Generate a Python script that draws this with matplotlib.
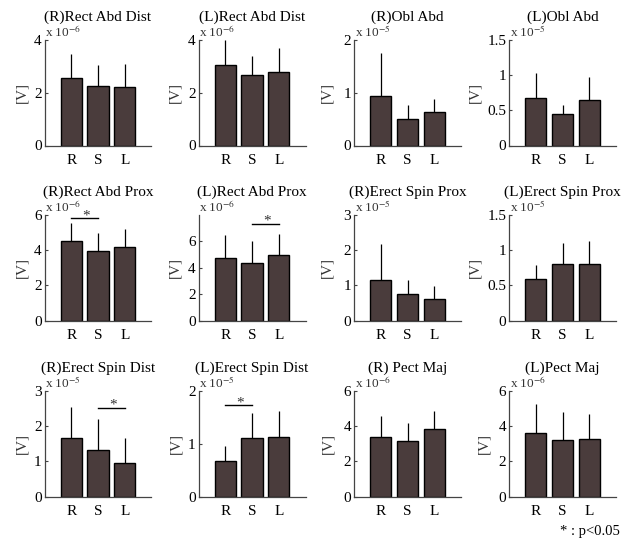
import matplotlib
matplotlib.use("Agg")
import matplotlib.pyplot as plt

plt.rcParams["font.family"] = ["Liberation Serif", "DejaVu Serif"]
plt.rcParams["mathtext.fontset"] = "stix"

# Muscle activity per posture (R / S / L), mean and SD, in units of 10^exp V
conditions = ["R", "S", "L"]

titles = [
    "(R)Rect Abd Dist", "(L)Rect Abd Dist", "(R)Obl Abd", "(L)Obl Abd",
    "(R)Rect Abd Prox", "(L)Rect Abd Prox", "(R)Erect Spin Prox", "(L)Erect Spin Prox",
    "(R)Erect Spin Dist", "(L)Erect Spin Dist", "(R) Pect Maj", "(L)Pect Maj",
]
exponents = [-6, -6, -5, -5, -6, -6, -5, -5, -5, -5, -6, -6]

means = [
    [2.55, 2.25, 2.23], [3.05, 2.66, 2.80], [0.93, 0.51, 0.63], [0.67, 0.45, 0.65],
    [4.51, 3.98, 4.19], [4.73, 4.38, 4.94], [1.15, 0.76, 0.62], [0.595, 0.80, 0.81],
    [1.65, 1.33, 0.95], [0.67, 1.10, 1.12], [3.37, 3.16, 3.83], [3.60, 3.24, 3.26],
]
sds = [
    [0.92, 0.80, 0.85], [0.94, 0.72, 0.88], [0.83, 0.25, 0.26], [0.36, 0.12, 0.33],
    [1.01, 1.01, 1.01], [1.75, 1.62, 1.62], [1.02, 0.39, 0.35], [0.20, 0.295, 0.32],
    [0.89, 0.86, 0.72], [0.28, 0.48, 0.50], [1.21, 1.01, 1.04], [1.68, 1.55, 1.42],
]

y_limits = [4, 4, 2, 1.5, 6, 8, 3, 1.5, 3, 2, 6, 6]
y_ticks = [
    [0, 2, 4], [0, 2, 4], [0, 1, 2], [0, 0.5, 1, 1.5],
    [0, 2, 4, 6], [0, 2, 4, 6], [0, 1, 2, 3], [0, 0.5, 1, 1.5],
    [0, 1, 2, 3], [0, 1, 2], [0, 2, 4, 6], [0, 2, 4, 6],
]
y_tick_labels = [[("%g" % t) for t in ticks] for ticks in y_ticks]

# significant pairs: panel index -> (first bar, second bar, bracket height)
sig_pairs = {4: (0, 1, 5.81), 5: (1, 2, 7.34), 8: (1, 2, 2.53), 9: (0, 1, 1.73)}

BAR_COLOR = "#4a3c3c"
W, H = 636, 542
col_left = [44.5, 198.5, 354, 509]
row_top = [40, 215, 391]
ax_w, ax_h = 107, 105.5
# distance (px) from the y axis to the right edge of the "[V]" label
ylabel_gap = [16, 17, 21, 28, 16, 17, 21, 28, 16, 16, 20, 19]

fig = plt.figure(figsize=(W / 100, H / 100), dpi=100)

x = [1, 2, 3]
for i in range(12):
    r, c = divmod(i, 4)
    left = col_left[c] / W
    bottom = (H - row_top[r] - ax_h) / H
    ax = fig.add_axes([left, bottom, ax_w / W, ax_h / H])

    ax.bar(x, means[i], width=0.8, color=BAR_COLOR, edgecolor="black",
           linewidth=1.0, zorder=2)
    ax.errorbar(x, means[i], yerr=[[0, 0, 0], sds[i]], fmt="none",
                ecolor="black", elinewidth=0.9, capsize=0, zorder=3)

    ax.set_xlim(0, 4)
    ax.set_ylim(0, y_limits[i])
    ax.set_xticks(x)
    ax.set_xticklabels(conditions)
    ax.set_yticks(y_ticks[i])
    ax.set_yticklabels(y_tick_labels[i])
    ax.tick_params(axis="x", length=0, labelsize=11, pad=6)
    ax.tick_params(axis="y", direction="in", length=2, labelsize=11, pad=2,
                   color="#444444")

    for side in ("top", "right"):
        ax.spines[side].set_visible(False)
    for side in ("left", "bottom"):
        ax.spines[side].set_color("#444444")
        ax.spines[side].set_linewidth(0.9)

    ax.set_title(titles[i], fontsize=11, pad=14)
    ax.set_ylabel("[V]", fontsize=11, color="#333333")
    ax.yaxis.set_label_coords(-ylabel_gap[i] / ax_w, 0.5)
    ax.text(0.005, 1.0, r"x 10$^{%d}$" % exponents[i], transform=ax.transAxes,
            ha="left", va="bottom", fontsize=9.5, color="#333333")

    if i in sig_pairs:
        a, b, y_sig = sig_pairs[i]
        ax.plot([x[a], x[b]], [y_sig, y_sig], color="black", linewidth=1.0,
                clip_on=False)
        ax.annotate("*", ((x[a] + x[b]) / 2, y_sig), xytext=(1, -3),
                    textcoords="offset points", ha="center", va="bottom",
                    fontsize=11, color="#333333")

fig.text(620 / W, 1 - 532 / H, "* : p<0.05", ha="right", va="center",
         fontsize=10.5)

fig.savefig("out.png", dpi=100)
